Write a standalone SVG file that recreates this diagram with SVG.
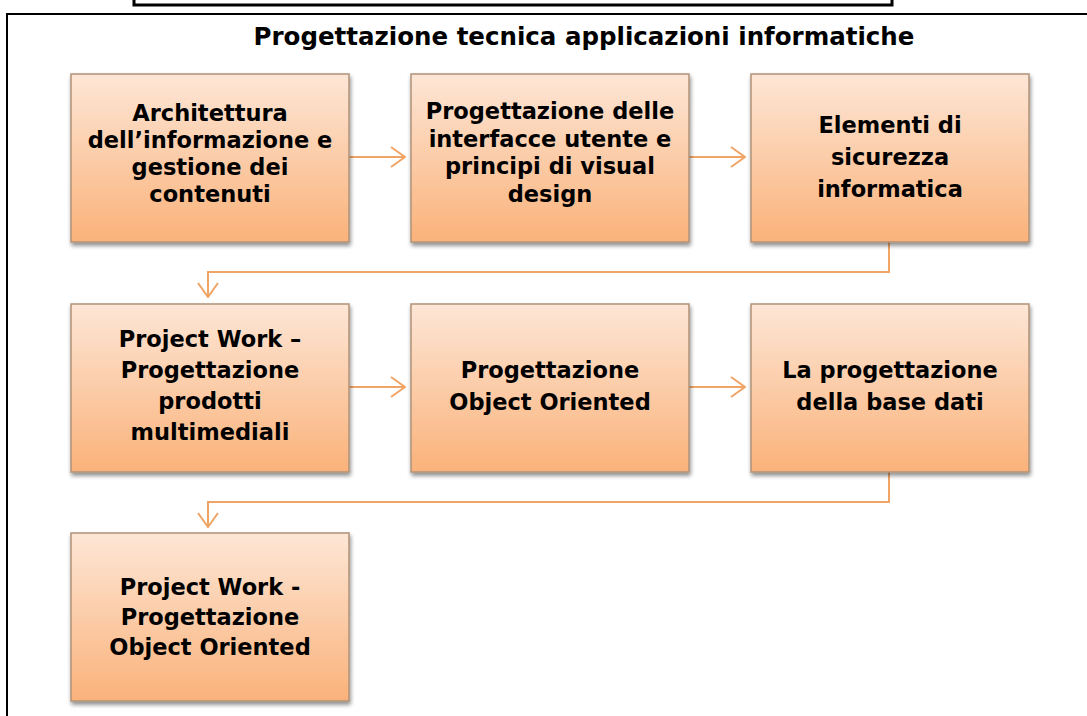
<svg xmlns="http://www.w3.org/2000/svg" width="1087" height="716" viewBox="0 0 1087 716">
<style>
.box{fill:url(#g);stroke:#b09278;stroke-width:1.5;filter:url(#sh)}
.t{font-family:"DejaVu Sans",sans-serif;font-weight:bold;font-size:22.5px;fill:#000;text-anchor:middle}
.ttl{font-family:"DejaVu Sans",sans-serif;font-weight:bold;font-size:24.5px;fill:#000;text-anchor:middle}
.c{fill:none;stroke:#f0a465;stroke-width:2}
</style>
<defs>
<linearGradient id="g" x1="0" y1="0" x2="0" y2="1">
<stop offset="0" stop-color="#fde6d6"/>
<stop offset="1" stop-color="#fab27a"/>
</linearGradient>
<filter id="sh" x="-10%" y="-10%" width="125%" height="130%">
<feGaussianBlur in="SourceAlpha" stdDeviation="2"/>
<feOffset dx="1" dy="3" result="b"/>
<feComponentTransfer><feFuncA type="linear" slope="0.45"/></feComponentTransfer>
<feMerge><feMergeNode/><feMergeNode in="SourceGraphic"/></feMerge>
</filter>
<marker id="ah" viewBox="0 0 16 22" refX="15" refY="11" markerWidth="16" markerHeight="22" markerUnits="userSpaceOnUse" orient="auto">
<path d="M1,1 L15,11 L1,21" fill="none" stroke="#f0a465" stroke-width="2"/>
</marker>
</defs>
<rect width="1087" height="716" fill="#fff"/>
<rect x="134" y="-10" width="758" height="15" fill="none" stroke="#000" stroke-width="3"/>
<path d="M7,716 V14 H1090" fill="none" stroke="#000" stroke-width="2"/>
<text class="ttl" x="584" y="45">Progettazione tecnica applicazioni informatiche</text>
<g id="connectors">
<path class="c" d="M349,157 H405" marker-end="url(#ah)"/>
<path class="c" d="M688,157 H745" marker-end="url(#ah)"/>
<path class="c" d="M889,242 V272 H208 V297" marker-end="url(#ah)"/>
<path class="c" d="M349,387 H405" marker-end="url(#ah)"/>
<path class="c" d="M688,387 H745" marker-end="url(#ah)"/>
<path class="c" d="M889,472 V502 H208 V527" marker-end="url(#ah)"/>
</g>
<g id="n1"><rect class="box" x="71" y="74" width="278" height="168"/>
<text class="t"><tspan x="210" y="121">Architettura</tspan><tspan x="210" y="148">dell’informazione e</tspan><tspan x="210" y="175">gestione dei</tspan><tspan x="210" y="202">contenuti</tspan></text></g>
<g id="n2"><rect class="box" x="411" y="74" width="278" height="168"/>
<text class="t"><tspan x="550" y="119">Progettazione delle</tspan><tspan x="550" y="147">interfacce utente e</tspan><tspan x="550" y="174">principi di visual</tspan><tspan x="550" y="202">design</tspan></text></g>
<g id="n3"><rect class="box" x="751" y="74" width="278" height="168"/>
<text class="t"><tspan x="890" y="133">Elementi di</tspan><tspan x="890" y="165">sicurezza</tspan><tspan x="890" y="197">informatica</tspan></text></g>
<g id="n4"><rect class="box" x="71" y="304" width="278" height="168"/>
<text class="t"><tspan x="210" y="347">Project Work –</tspan><tspan x="210" y="378">Progettazione</tspan><tspan x="210" y="409">prodotti</tspan><tspan x="210" y="440">multimediali</tspan></text></g>
<g id="n5"><rect class="box" x="411" y="304" width="278" height="168"/>
<text class="t"><tspan x="550" y="378">Progettazione</tspan><tspan x="550" y="410">Object Oriented</tspan></text></g>
<g id="n6"><rect class="box" x="751" y="304" width="278" height="168"/>
<text class="t"><tspan x="890" y="378">La progettazione</tspan><tspan x="890" y="410">della base dati</tspan></text></g>
<g id="n7"><rect class="box" x="71" y="533" width="278" height="168"/>
<text class="t"><tspan x="210" y="595">Project Work -</tspan><tspan x="210" y="625">Progettazione</tspan><tspan x="210" y="655">Object Oriented</tspan></text></g>
</svg>
